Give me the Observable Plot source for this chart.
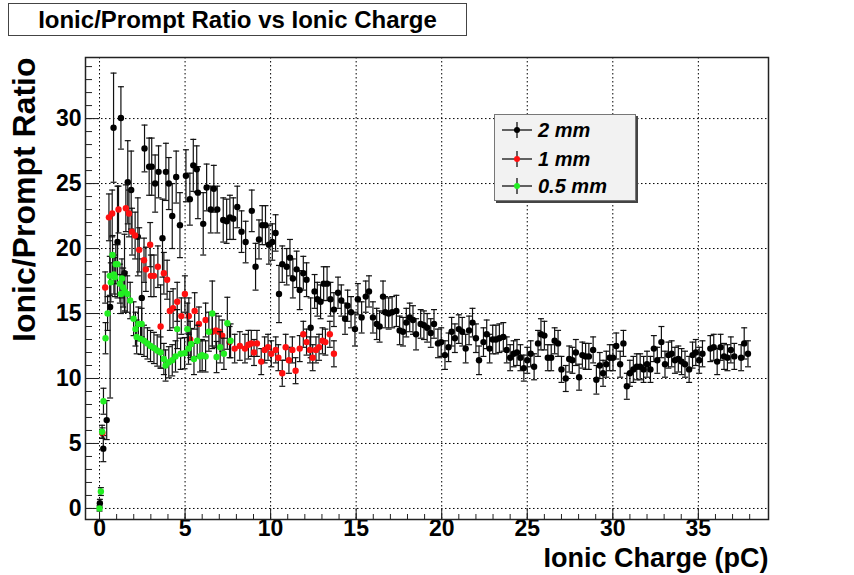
<!DOCTYPE html>
<html>
<head>
<meta charset="utf-8">
<script src="https://cdn.jsdelivr.net/npm/d3@7"></script>
<script src="https://cdn.jsdelivr.net/npm/@observablehq/plot@0.6"></script>
<style>
  html, body { margin: 0; padding: 0; background: #fff; }
  #wrap { position: relative; width: 854px; height: 575px; font-family: "Liberation Sans", Arial, Helvetica, sans-serif; }
  #titlebar { position: relative; height: 40px; }
  #title { position: absolute; left: 8px; top: 3px; width: 459px; height: 33px; box-sizing: border-box;
           border: 1px solid #444; background: #fff; font-weight: bold; font-size: 24px; text-align: center; line-height: 31px; color: #000; }
  #legend { position: absolute; left: 494px; top: 114px; width: 142px; height: 87px; box-sizing: border-box;
            background: #f2f2f2; border: 1px solid #777; box-shadow: 2px 2px 0 #444; }
  .row { position: absolute; left: 6px; height: 20px; display: flex; align-items: center; }
  .row span { font-weight: bold; font-style: italic; font-size: 20px; margin-left: 5px; color: #000; }
  svg { display: block; }
</style>
</head>
<body>
<div id="wrap">
  <div id="titlebar"><div id="title">Ionic/Prompt Ratio vs Ionic Charge</div></div>
  <div id="chart"></div>
  <div id="legend"></div>
</div>
<script>
// ---- Data: [Ionic charge (pC), Ionic/Prompt ratio, error] ----
const seriesNames = ["2 mm", "1 mm", "0.5 mm"];
const seriesColors = ["#000000", "#ff1010", "#22ee22"];
const xTicks = [0, 5, 10, 15, 20, 25, 30, 35];
const yTicks = [0, 5, 10, 15, 20, 25, 30];

const gap2mm = [
  [0.02,0.4,0.3],[0.22,4.6,1.0],[0.42,6.8,1.5],[0.62,15.5,7.0],[0.82,29.3,4.2],[1.05,20.5,4.3],
  [1.25,30.05,2.4],[1.46,18.1,3.0],[1.65,25.1,3.2],[1.85,24.5,3.0],[2.24,20.9,3.0],[2.47,16.2,3.0],
  [2.63,27.7,1.8],[2.9,26.3,2.2],[3.05,26.3,2.2],[3.25,25.0,2.2],[3.45,25.9,2.0],[3.68,20.8,3.0],
  [3.88,25.9,2.2],[4.05,25.0,2.0],[4.25,22.5,2.5],[4.48,25.5,2.0],[4.7,21.8,2.5],[5.05,25.6,2.0],
  [5.28,23.8,2.0],[5.48,26.4,2.0],[5.68,26.1,1.8],[5.75,24.3,2.0],[6.06,21.9,2.4],[6.26,24.7,1.8],
  [6.5,23.0,1.8],[6.68,24.6,1.8],[6.88,23.0,1.8],[7.23,22.2,1.7],[7.43,22.1,1.7],[7.62,22.4,1.7],
  [7.82,22.3,1.6],[8.05,23.2,1.6],[8.3,21.3,1.6],[8.54,20.5,1.6],[8.9,22.9,1.6],[9.12,18.6,1.8],
  [9.32,20.7,1.5],[9.51,21.8,1.5],[9.7,21.8,1.5],[9.9,20.3,1.5],[10.1,20.5,1.4],[10.29,21.2,1.4],
  [10.49,16.5,2.2],[10.68,18.8,1.4],[10.94,18.6,1.4],[11.13,19.3,1.4],[11.3,17.7,1.5],[11.52,18.4,1.4],
  [11.7,16.8,1.5],[11.91,18.1,1.3],[12.1,17.6,1.3],[12.34,13.9,2.3],[12.57,16.7,1.3],[12.73,16.1,1.3],
  [12.92,15.9,1.3],[13.1,17.3,1.3],[13.3,17.3,1.3],[13.5,16.1,1.3],[13.7,15.3,1.3],[13.94,16.6,1.2],
  [14.13,16.0,1.2],[14.35,14.6,1.2],[14.5,15.6,1.2],[14.7,15.1,1.2],[14.93,13.8,1.3],[15.1,16.1,1.2],
  [15.32,14.7,1.2],[15.56,16.3,1.2],[15.75,16.7,1.2],[15.98,14.7,1.2],[16.2,14.2,1.2],[16.37,14.0,1.2],
  [16.57,16.3,1.2],[16.7,15.1,1.2],[16.9,15.0,1.2],[17.1,15.1,1.2],[17.35,15.2,1.2],[17.54,13.7,1.1],
  [17.74,13.6,1.1],[17.93,14.3,1.1],[18.13,14.7,1.1],[18.32,14.5,1.1],[18.5,13.4,1.2],[18.77,14.2,1.1],
  [18.96,14.1,1.1],[19.15,13.9,1.1],[19.36,13.5,1.1],[19.55,14.2,1.1],[19.78,12.7,1.1],[19.97,12.8,1.1],
  [20.19,11.8,1.1],[20.4,12.4,1.1],[20.58,13.6,1.1],[20.77,13.1,1.1],[21.0,13.8,1.1],[21.2,13.6,1.1],
  [21.4,12.3,1.1],[21.6,13.7,1.1],[21.8,14.3,1.1],[22.0,13.1,1.1],[22.18,11.4,1.1],[22.44,12.8,1.1],
  [22.63,13.4,1.1],[22.8,12.3,1.1],[22.98,13.0,1.1],[23.17,13.0,1.1],[23.37,13.1,1.1],[23.6,13.2,1.1],
  [23.8,12.2,1.0],[24.0,11.6,1.0],[24.2,11.9,1.0],[24.4,12.0,1.0],[24.6,11.6,1.0],[24.8,10.8,1.0],
  [25.0,11.4,1.0],[25.2,11.9,1.0],[25.4,10.9,1.0],[25.63,12.7,1.0],[25.8,13.4,1.2],[26.0,13.3,1.1],
  [26.2,11.6,1.0],[26.4,11.6,1.0],[26.6,12.9,1.0],[26.8,12.7,1.0],[27.0,10.7,1.0],[27.25,10.0,1.0],
  [27.45,11.5,1.0],[27.64,11.4,1.0],[27.84,12.0,1.0],[28.03,10.1,1.0],[28.22,11.8,1.0],[28.41,11.7,1.0],
  [28.6,11.7,1.0],[28.85,12.2,1.0],[29.04,9.9,1.1],[29.24,11.0,1.0],[29.43,10.4,1.0],[29.62,11.1,1.0],
  [29.82,11.6,1.0],[30.01,11.6,1.0],[30.2,12.5,1.0],[30.43,11.1,1.0],[30.62,12.7,1.0],[30.82,9.4,1.0],
  [31.0,10.4,1.0],[31.2,10.7,1.0],[31.4,10.9,1.0],[31.6,10.9,1.0],[31.8,10.7,1.0],[32.0,11.1,1.0],
  [32.2,10.7,1.0],[32.4,12.3,1.0],[32.6,11.4,1.0],[32.84,12.8,1.2],[33.05,11.1,1.0],[33.25,11.8,1.0],
  [33.44,11.9,1.0],[33.63,11.4,1.0],[33.83,11.5,1.0],[34.02,11.3,1.0],[34.22,11.1,1.0],[34.46,10.7,1.0],
  [34.66,11.8,1.0],[34.85,12.0,1.0],[35.05,11.4,1.0],[35.24,11.9,1.0],[35.7,12.3,1.0],[35.9,12.4,1.0],
  [36.1,11.3,1.0],[36.3,12.4,1.0],[36.5,11.7,1.0],[36.7,11.6,1.0],[36.9,12.2,1.0],[37.1,11.7,1.0],
  [37.5,11.6,1.0],[37.68,12.7,1.2],[37.9,11.9,1.0]
];

const gap1mm = [
  [0.17,5.8,0.4],[0.33,17.0,1.2],[0.55,22.4,1.8],[0.74,22.7,1.8],[1.11,23.0,1.8],[1.54,23.1,1.8],
  [1.72,22.7,1.8],[1.9,21.3,1.8],[2.08,21.0,1.8],[2.32,19.9,1.7],[2.6,19.1,1.7],[2.71,18.4,1.7],
  [2.96,20.3,1.7],[3.0,17.9,1.6],[3.18,17.9,1.6],[3.41,18.6,1.6],[3.57,14.0,3.2],[3.76,18.1,1.6],
  [3.95,17.6,1.5],[4.11,15.2,1.5],[4.3,15.4,1.5],[4.54,15.9,1.5],[4.78,14.8,1.4],[4.99,16.5,1.4],
  [5.22,14.8,1.4],[5.3,13.0,1.4],[5.56,15.2,1.4],[5.81,14.2,1.3],[6.2,14.5,1.3],[6.59,13.6,1.3],
  [6.8,13.7,1.3],[6.98,13.6,1.2],[7.17,13.3,1.2],[7.6,12.8,1.2],[7.9,12.3,1.1],[8.2,12.5,1.1],
  [8.5,12.3,1.1],[8.7,12.6,1.1],[8.87,12.7,1.0],[9.03,12.0,1.0],[9.2,12.7,1.0],[9.45,11.3,1.0],
  [9.65,12.2,1.0],[9.85,12.4,1.0],[10.04,11.9,1.0],[10.3,12.2,1.0],[10.45,11.6,1.0],[10.68,10.4,1.0],
  [10.88,12.4,1.0],[11.07,11.4,1.0],[11.27,12.2,1.0],[11.46,10.6,1.0],[11.7,12.3,1.0],[11.91,13.4,1.0],
  [12.1,12.8,1.0],[12.3,12.2,1.0],[12.46,11.6,1.0],[12.65,12.2,1.0],[12.83,12.4,1.0],[13.03,12.9,1.0],
  [13.2,12.8,1.0],[13.46,13.4,1.0],[13.7,11.9,1.0]
];

const gap05mm = [
  [0.0,0.0,0.2],[0.08,1.3,0.3],[0.15,5.9,0.5],[0.23,8.25,1.0],[0.35,13.1,1.2],[0.47,15.0,1.3],
  [0.6,17.9,1.5],[0.66,17.4,1.5],[0.76,19.5,1.5],[0.84,18.0,1.5],[0.9,17.8,1.5],[0.95,18.8,1.5],
  [1.05,18.8,1.5],[1.19,17.3,1.5],[1.25,16.5,1.5],[1.31,17.7,1.5],[1.38,17.0,1.5],[1.48,16.7,1.5],
  [1.62,16.5,1.4],[1.79,16.0,1.4],[1.99,14.6,1.3],[2.1,13.8,1.3],[2.17,13.2,1.3],[2.27,14.2,1.3],
  [2.4,13.05,1.2],[2.46,14.2,1.2],[2.6,12.9,1.2],[2.8,12.7,1.2],[2.98,12.5,1.2],[3.18,12.35,1.2],
  [3.37,12.15,1.2],[3.57,12.0,1.2],[3.76,11.5,1.2],[3.86,11.0,1.2],[4.05,11.25,1.2],[4.25,11.4,1.2],
  [4.44,11.7,1.2],[4.54,13.8,1.5],[4.74,11.9,1.2],[4.97,11.95,1.2],[5.13,13.8,2.0],[5.2,12.3,1.2],
  [5.36,12.65,1.2],[5.52,11.5,1.2],[5.71,12.9,1.2],[5.87,11.7,1.2],[6.0,11.8,1.2],[6.2,11.7,1.2],
  [6.39,13.6,1.5],[6.59,15.0,2.5],[6.84,11.65,1.2],[7.05,12.4,1.2],[7.27,11.9,1.2],[7.47,14.25,2.0],
  [7.66,12.9,1.3]
];

const seriesData = [gap2mm, gap1mm, gap05mm];
const rows = seriesData.map((arr, k) => arr.map(([x, y, e]) => ({x, y, e, s: seriesNames[k]})));

const capSymbol = {
  draw(ctx, size) {
    const w = Math.sqrt(size / Math.PI);
    ctx.moveTo(-w, 0);
    ctx.lineTo(w, 0);
  }
};

const font = '"Liberation Sans", Arial, Helvetica, sans-serif';
const marks = [
  Plot.gridX(xTicks, {stroke: "#000", strokeOpacity: 1, strokeWidth: 1, strokeDasharray: "1.5,2.5"}),
  Plot.gridY(yTicks, {stroke: "#000", strokeOpacity: 1, strokeWidth: 1, strokeDasharray: "1.5,2.5"}),
  Plot.axisX(d3.range(0, 39, 1), {anchor: "bottom", tickSize: -5, text: null, label: null, stroke: "#222"}),
  Plot.axisX(xTicks, {anchor: "bottom", tickSize: -11, text: null, label: null, stroke: "#222"}),
  Plot.axisY(d3.range(0, 35, 1), {anchor: "left", tickSize: -7, text: null, label: null, stroke: "#222"}),
  Plot.axisY(yTicks, {anchor: "left", tickSize: -14, text: null, label: null, stroke: "#222"}),
  Plot.axisX(xTicks, {anchor: "bottom", tickSize: 0, tickPadding: 0, fontSize: 23, fontWeight: "bold", fontFamily: font, fill: "#000", label: null}),
  Plot.axisY(yTicks, {anchor: "left", tickSize: 0, tickPadding: 4, fontSize: 23, fontWeight: "bold", fontFamily: font, fill: "#000", label: null}),
  Plot.frame({stroke: "#222", strokeWidth: 1.5})
];
rows.forEach((data, k) => {
  marks.push(
    Plot.ruleX(data, {x: "x", y1: d => d.y - d.e, y2: d => d.y + d.e, stroke: "#111", strokeWidth: 1.2}),
    Plot.dot(data, {x: "x", y: d => d.y + d.e, symbol: capSymbol, r: 3, stroke: "#111", strokeWidth: 1.2, fill: "none"}),
    Plot.dot(data, {x: "x", y: d => d.y - d.e, symbol: capSymbol, r: 3, stroke: "#111", strokeWidth: 1.2, fill: "none"}),
    Plot.dot(data, {x: "x", y: "y", r: 3.2, fill: seriesColors[k], stroke: "none"})
  );
});
marks.push(
  Plot.text(["Ionic/Prompt Ratio"], {frameAnchor: "top-left", rotate: -90, textAnchor: "end", dx: -73, dy: 0,
    fontSize: 32, fontWeight: "bold", fontFamily: font, fill: "#000"}),
  Plot.text(["Ionic Charge (pC)"], {frameAnchor: "bottom-right", textAnchor: "end", dx: 0, dy: 47,
    fontSize: 27, fontWeight: "bold", fontFamily: font, fill: "#000"})
);

const chart = Plot.plot({
  width: 854,
  height: 535,
  marginTop: 17,
  marginBottom: 56,
  marginLeft: 85,
  marginRight: 86,
  style: {fontFamily: font, background: "#fff", overflow: "visible"},
  x: {domain: [-0.82, 39.1], axis: null},
  y: {domain: [-0.85, 34.7], axis: null},
  marks
});
document.getElementById("chart").appendChild(chart);

// legend
const legend = document.getElementById("legend");
const rowTops = [5, 34, 61];
seriesNames.forEach((name, k) => {
  const row = document.createElement("div");
  row.className = "row";
  row.style.top = rowTops[k] + "px";
  row.innerHTML = `<svg width="32" height="18" viewBox="0 0 32 18">
      <line x1="1" y1="9" x2="31" y2="9" stroke="#111" stroke-width="1.3"/>
      <line x1="16" y1="1" x2="16" y2="17" stroke="#111" stroke-width="1.3"/>
      <circle cx="16" cy="9" r="3" fill="${seriesColors[k]}"/>
    </svg><span>${name}</span>`;
  legend.appendChild(row);
});
</script>
</body>
</html>
